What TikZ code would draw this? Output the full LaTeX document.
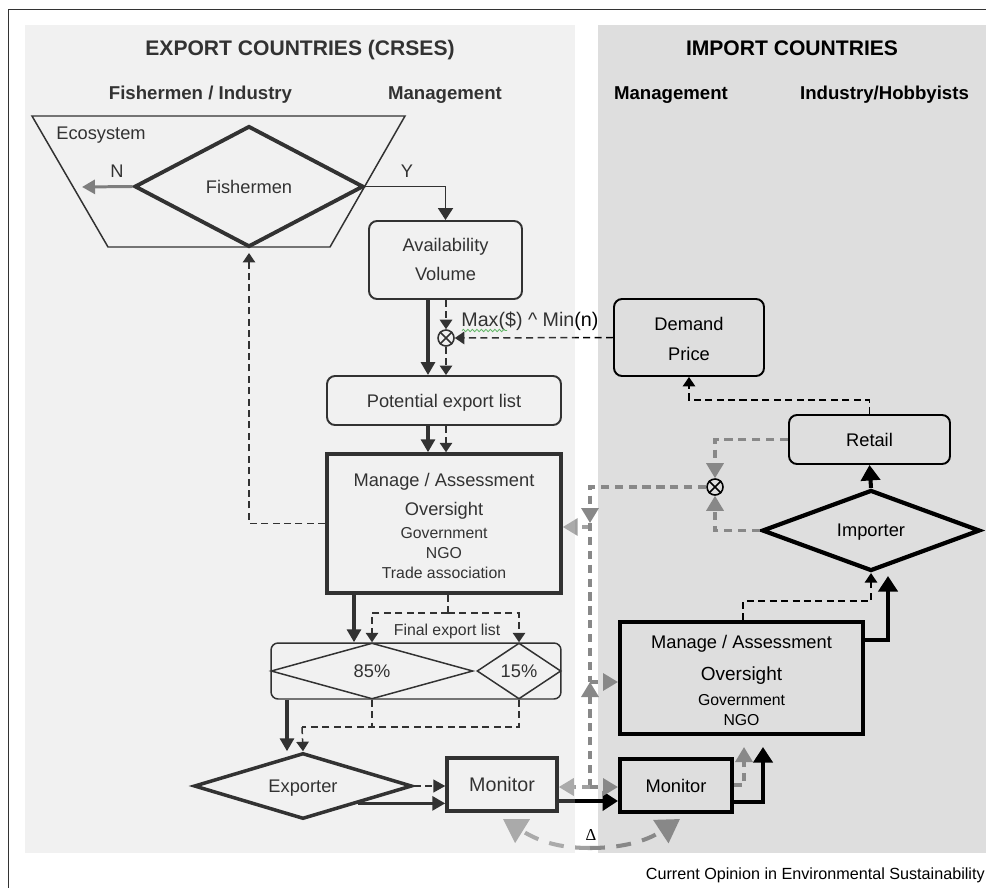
\documentclass[tikz,border=0pt]{standalone}
\usepackage{fontspec}
\setmainfont{Liberation Sans}
\newfontfamily\deltafont{Liberation Serif}
\usetikzlibrary{arrows.meta,shapes.geometric,decorations.pathmorphing}

\definecolor{rpanel}{HTML}{DEDEDE}
\definecolor{lover}{HTML}{C8C8C8}
\definecolor{gmid}{HTML}{888888}
\definecolor{glight}{HTML}{A0A0A0}
\definecolor{gN}{HTML}{666666}
\definecolor{squig}{HTML}{3CB043}

\tikzset{
  nbase/.style={inner sep=0pt, text depth=0pt, font=\fontsize{10.4}{12.5}\selectfont},
  rbox/.style={nbase, draw, rounded corners=1.6mm, line width=1.1pt},
  sbox/.style={nbase, draw, line width=2pt},
  dia/.style={nbase, draw, diamond, line width=2.1pt},
  lbl/.style={nbase},
  smf/.style={font=\fontsize{9}{11}\selectfont},
  hd/.style={nbase, font=\fontsize{10.6}{12.5}\selectfont\bfseries},
  ttl/.style={nbase, font=\fontsize{12}{14}\selectfont\bfseries},
  solidK/.style={line width=1.8pt, -{Triangle[length=2.6mm,width=2.8mm]}},
  dashKn/.style={line width=0.85pt, dash pattern=on 4pt off 2.5pt},
  dashK/.style={dashKn, -{Triangle[length=1.9mm,width=2.5mm]}},
  gdash/.style={gmid, line width=1.9pt, dash pattern=on 4.7pt off 3.2pt},
  gtip/.style={-{Triangle[length=3mm,width=3.4mm]}},
  thickK/.style={line width=2.3pt, -{Triangle[length=3.1mm,width=3.8mm]}},
  bigtip/.style={-{Triangle[length=4.6mm,width=5.4mm]}},
  xcirc/.style={circle, draw, line width=0.9pt, minimum size=16*0.2mm, inner sep=0pt}
}

\begin{document}
\begin{tikzpicture}[x=0.02cm, y=-0.02cm]
\useasboundingbox (0,0) rectangle (986,888);
\fill[rpanel] (598,25) rectangle (986,853);
\draw[line width=0.75pt, black!80] (8.5,888) -- (8.5,9.5) -- (986,9.5);

% headings
\node[ttl, anchor=base] (t1) at (300,55.5) {EXPORT COUNTRIES (CRSES)};
\node[ttl, anchor=base] (t2) at (792,55.5) {IMPORT COUNTRIES};
\node[hd, anchor=base] (h1) at (200.5,99.5) {Fishermen / Industry};
\node[hd, anchor=base] (h2) at (445,99.5) {Management};
\node[hd, anchor=base] (h3) at (671,99.5) {Management};
\node[hd, anchor=base] (h4) at (884.5,99.5) {Industry/Hobbyists};

% column / row helpers
\coordinate (cA) at (428,0);
\coordinate (cB) at (446,0);
\coordinate (cC) at (354,0);
\coordinate (cD) at (448,0);
\coordinate (cE) at (287,0);
\coordinate (cF) at (590,0);
\coordinate (cG) at (763,0);
\coordinate (cH) at (744,0);
\coordinate (cI) at (888,0);
\coordinate (cJ) at (743,0);
\coordinate (rA) at (0,613);
\coordinate (rC) at (0,601);
\coordinate (rD) at (0,400);
\coordinate (rE) at (0,523);
\coordinate (rF) at (0,527);
\coordinate (rG) at (0,787);
\coordinate (rH) at (0,682);
\coordinate (rI) at (0,640);
\coordinate (rJ) at (0,576);
\coordinate (rK) at (0,802);
\coordinate (rL) at (0,747);
\coordinate (rM) at (0,801);
\coordinate (rN) at (0,785);

% ecosystem
\draw[line width=0.85pt] (32,116) -- (405,116) -- (330,247) -- (108,247) -- cycle;
\node[lbl, anchor=base west] (ecoT) at (56,139.3) {Ecosystem};
\coordinate (ecoB) at (249,253);
\node[dia, line width=2.2pt, minimum width=229*0.2mm, minimum height=121*0.2mm, aspect=1.9] (fish) at (249,186.5) {Fishermen};
\coordinate (nEnd) at (82,187);
\draw[gN, line width=1.7pt, -{Triangle[length=2.6mm,width=2.8mm]}] (fish.west) -- (nEnd);
\node[lbl] (nL) at (117,171.7) {N};
\node[lbl] (yL) at (407,171.7) {Y};

% availability
\node[rbox, minimum width=153*0.2mm, minimum height=78*0.2mm] (avail) at (445.5,260) {};
\node[lbl, anchor=base] (avT1) at (445.5,251.7) {Availability};
\node[lbl, anchor=base] (avT2) at (445.5,280) {Volume};
\draw[line width=1.1pt, -{Triangle[length=2.4mm,width=3mm]}] (fish.east) -| (avail.north);

% x1
\node[xcirc] (x1) at (446,338) {};
\draw[line width=0.9pt] (x1.north east) -- (x1.south west) (x1.north west) -- (x1.south east);
\node[lbl, anchor=base west, font=\fontsize{11.2}{13}\selectfont] (maxT) at (461,326.7) {Max(\$) \^{} Min(n)};
\draw[squig, line width=0.45pt, decorate, decoration={snake, amplitude=0.25mm, segment length=0.9mm}] (462,330.5) -- (507,330.5);

% demand
\node[rbox, minimum width=150*0.2mm, minimum height=77*0.2mm] (demand) at (689,337.5) {};
\node[lbl, anchor=base] (dmT1) at (689,330.7) {Demand};
\node[lbl, anchor=base] (dmT2) at (689,360) {Price};

% potential
\node[rbox, minimum width=234*0.2mm, minimum height=49*0.2mm] (pot) at (444,400.5) {Potential export list};

\draw[solidK] (avail.south -| cA) -- (pot.north -| cA);
\draw[dashK] (avail.south -| x1) -- (x1.north);
\draw[dashK] (x1.south) -- (pot.north -| x1);
\draw[dashK] (demand.west) -- (x1.east);

% manage left
\node[sbox, minimum width=234*0.2mm, minimum height=139*0.2mm] (mgL) at (444,523.5) {};
\node[lbl, anchor=base] (mL1) at (444,486.7) {Manage / Assessment};
\node[lbl, anchor=base] (mL2) at (444,515.5) {Oversight};
\node[lbl, smf, anchor=base] (mL3) at (444,538.3) {Government};
\node[lbl, smf, anchor=base] (mL4) at (444,558.3) {NGO};
\node[lbl, smf, anchor=base] (mL5) at (444,578) {Trade association};

\draw[solidK] (pot.south -| cA) -- (mgL.north -| cA);
\draw[dashK] (pot.south -| cB) -- (mgL.north -| cB);
\draw[dashK] (mgL.west) -| (ecoB);

% final export list
\node[rbox, line width=0.85pt, rounded corners=1.4mm, minimum width=290*0.2mm, minimum height=56*0.2mm] (fin) at (416,671) {};
\node[dia, line width=0.85pt, minimum width=202*0.2mm, minimum height=56*0.2mm, aspect=3.6] (d85) at (372,671) {85\%};
\node[dia, line width=0.85pt, minimum width=84*0.2mm, minimum height=56*0.2mm, aspect=1.5] (d15) at (519,671) {15\%};
\node[lbl, smf, anchor=base] (finT) at (447,635.7) {Final export list};

\draw[solidK] (mgL.south -| cC) -- (fin.north -| cC);
\draw[dashKn] (mgL.south -| cD) -- (cD |- rA);
\draw[dashK] (cD |- rA) -| (d85.north);
\draw[dashK] (cD |- rA) -| (d15.north);

% exporter
\node[dia, line width=2pt, minimum width=218*0.2mm, minimum height=66*0.2mm, aspect=3.3] (ex) at (303,786) {Exporter};
\coordinate (jB) at (302,727);
\draw[solidK] (fin.south -| cE) -- (ex.north -| cE);
\draw[dashKn] (d85.south) -- (d85.south |- jB);
\draw[dashKn] (d15.south) |- (jB);
\draw[dashK] (jB) -- (ex.north);

% monitors
\node[sbox, line width=2pt, minimum width=110*0.2mm, minimum height=53*0.2mm, font=\fontsize{11.2}{13}\selectfont] (monL) at (502,784.5) {Monitor};
\node[sbox, line width=2.3pt, minimum width=112*0.2mm, minimum height=53*0.2mm] (monR) at (676,785.5) {Monitor};
\draw[dashK, -{Triangle[length=2.4mm,width=2.6mm]}] (ex.east) -- (ex.east -| monL.west);
\draw[solidK] (ex.south east) -- (ex.south east -| monL.west);
\draw[thickK] (monL.east |- rM) -- (monR.west |- rM);

% manage right
\node[sbox, line width=2.3pt, minimum width=243*0.2mm, minimum height=112*0.2mm] (mgR) at (741.5,678) {};
\node[lbl, anchor=base] (mR1) at (741.5,648.3) {Manage / Assessment};
\node[lbl, anchor=base, font=\fontsize{10.8}{13}\selectfont] (mR2) at (741.5,680) {Oversight};
\node[lbl, smf, anchor=base] (mR3) at (741.5,705) {Government};
\node[lbl, smf, anchor=base] (mR4) at (741.5,725) {NGO};

% importer / retail
\node[dia, line width=2.4pt, minimum width=218*0.2mm, minimum height=81*0.2mm, aspect=2.7] (imp) at (871,530.5) {Importer};
\node[rbox, minimum width=161*0.2mm, minimum height=49*0.2mm] (retail) at (869.5,439.5) {Retail};
\node[xcirc] (x2) at (715,487) {};
\draw[line width=0.9pt] (x2.north east) -- (x2.south west) (x2.north west) -- (x2.south east);

\draw[thickK] (imp.north) -- (retail.south);
\draw[dashK] (retail.north) -- (retail.north |- rD) -| (demand.south);
\draw[thickK] (mgR.east |- rI) -| (cI |- rJ);
\draw[dashK] (mgR.north -| cJ) -- (cJ |- rC) -| (imp.south);
\draw[thickK] (monR.east |- rK) -| (cG |- rL);
\draw[gdash, gtip] (monR.east |- rN) -| (cH |- rL);

% grey feedback network
\draw[gdash, gtip] (retail.west) -| (x2.north);
\draw[gdash, gtip] (imp.west) -| (x2.south);
\draw[gdash, gtip] (x2.west) -| (cF |- rE);
\draw[gdash, glight, gtip] (cF |- rF) -- (mgL.east |- rF);
\draw[gdash] (cF |- rE) -- (cF |- rH);
\draw[gdash, gtip] (cF |- rG) -- (cF |- rH);
\draw[gdash, gtip] (cF |- rH) -- (mgR.west |- rH);
\draw[gdash, glight, gtip] (cF |- rG) -- (monL.east |- rG);
\draw[gdash, gtip] (cF |- rG) -- (monR.west |- rG);

% delta curve
\coordinate (cb) at (590,848);
\coordinate (tipL) at (503,819);
\coordinate (tipR) at (680,819);
\draw[glight, line width=2.3pt, dash pattern=on 8.5pt off 6.5pt, bigtip] (cb) .. controls (560,848) and (540,842) .. (tipL);
\draw[gmid, line width=2.3pt, dash pattern=on 8.5pt off 6.5pt, bigtip] (cb) .. controls (620,848) and (645,842) .. (tipR);
\node[anchor=base, inner sep=0pt, font=\fontsize{9.5}{11}\selectfont\deltafont] (delta) at (591,840) {Δ};

% credit
\node[nbase, anchor=base east, font=\fontsize{9.2}{11}\selectfont] (credit) at (985,879) {Current Opinion in Environmental Sustainability};

% left panel translucent overlay
\fill[lover, opacity=0.255] (25,25) rectangle (575,853);
\end{tikzpicture}
\end{document}
